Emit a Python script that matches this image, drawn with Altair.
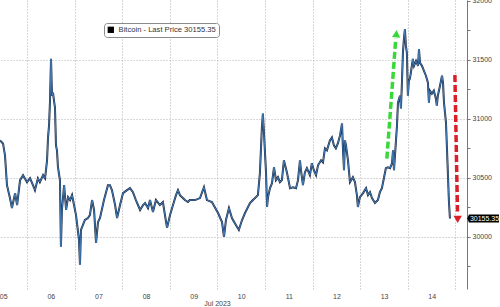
import altair as alt
import pandas as pd

# ---- data (hours since 2023-07-05 00:00, price) ----
hours = [10.4, 11.9, 12.9, 13.9, 15.4, 16.4, 18.0, 19.0, 20.5, 22.0, 24.0, 25.5, 27.0, 28.0, 29.5,
         30.5, 32.1, 33.1, 34.1, 34.6, 35.1, 35.6, 36.1, 36.6, 37.1, 37.6, 38.1, 38.6, 39.1, 39.6,
         40.6, 41.1, 41.6, 42.7, 43.7, 44.7, 45.7, 46.7, 47.7, 48.7, 50.2, 50.7, 51.2, 52.2, 53.2,
         54.7, 55.7, 56.8, 57.8, 58.8, 59.8, 60.8, 62.8, 64.8, 65.8, 66.8, 68.4, 69.4, 70.9, 72.4,
         74.4, 75.9, 77.4, 78.9, 81.0, 82.5, 83.5, 85.0, 86.0, 87.5, 89.0, 91.0, 92.5, 94.1, 94.6,
         96.1, 97.6, 99.1, 100.1, 101.1, 103.6, 105.1, 106.1, 108.7, 111.2, 113.2, 114.7, 117.2, 120.3,
         122.3, 123.3, 124.3, 125.8, 127.3, 129.3, 130.8, 132.4, 133.9, 136.4, 137.9, 139.4, 140.4,
         141.4, 141.9, 142.4, 142.9, 143.4, 143.9, 144.5, 145.0, 145.5, 146.5, 147.5, 148.5, 149.5,
         150.5, 151.5, 152.5, 153.5, 155.0, 156.6, 158.1, 159.6, 160.6, 161.6, 162.1, 163.1, 164.1,
         165.1, 166.6, 167.6, 168.6, 169.7, 170.7, 172.2, 173.2, 174.2, 175.2, 176.7, 177.7, 178.7,
         179.7, 180.7, 181.8, 182.8, 183.3, 183.8, 184.3, 184.8, 185.8, 186.8, 188.3, 189.3, 190.3,
         190.8, 191.8, 193.4, 194.9, 195.9, 196.9, 197.9, 199.4, 200.9, 201.9, 202.9, 203.9, 204.9,
         205.9, 207.0, 208.0, 208.5, 209.0, 209.5, 210.5, 211.0, 212.0, 212.5, 213.0, 213.5, 214.0,
         214.5, 215.0, 215.5, 216.0, 216.5, 217.0, 217.5, 218.5, 219.1, 220.1, 221.1, 221.6, 222.1,
         223.1, 224.1, 225.1, 226.1, 226.6, 227.1, 228.1, 229.1, 230.1, 230.6, 231.1, 232.2, 233.2,
         233.7, 234.2, 235.2, 235.7, 236.2, 236.7, 237.2]
prices = [30818, 30792, 30691, 30438, 30329, 30244, 30371, 30270, 30481, 30523, 30464, 30497, 30438, 30396, 30497,
          30464, 30523, 30497, 30649, 30843, 30944, 31155, 31509, 31197, 31222, 31155, 31096, 30776, 30733, 30590,
          30481, 29916, 30228, 30438, 30228, 30337, 30312, 30354, 30270, 30185, 29975, 29764, 30059, 30101, 30143,
          30160, 30185, 30312, 30228, 29949, 30126, 30160, 30312, 30438, 30438, 30396, 30270, 30160, 30270, 30371,
          30396, 30413, 30379, 30312, 30228, 30270, 30287, 30244, 30312, 30211, 30312, 30270, 30295, 30126, 30076,
          30185, 30270, 30354, 30396, 30354, 30312, 30295, 30312, 30312, 30329, 30421, 30312, 30295, 30202,
          30126, 30000, 30143, 30244, 30160, 30101, 30059, 30143, 30202, 30287, 30312, 30337, 30354,
          30540, 30733, 30927, 31045, 30902, 30733, 30540, 30253, 30337, 30413, 30455, 30590, 30481,
          30506, 30464, 30481, 30649, 30548, 30413, 30421, 30413, 30481, 30649, 30565, 30438, 30548,
          30582, 30523, 30624, 30565, 30523, 30607, 30649, 30632, 30750, 30733, 30818, 30843, 30776,
          30750, 30792, 30860, 30961, 30733, 30565, 30818, 30776, 30649, 30464, 30506, 30464, 30354,
          30253, 30337, 30371, 30413, 30354, 30379, 30329, 30287, 30312, 30379, 30413, 30497, 30582,
          30590, 30582, 30624, 30733, 30565, 30691, 30944, 31138, 31197, 31088, 31307, 31560, 31678,
          31762, 31619, 31560, 31197, 31323, 31340, 31391, 31509, 31450, 31492, 31450, 31593, 31475,
          31450, 31408, 31366, 31307, 31138, 31239, 31214, 31239, 31172, 31113, 31197, 31281, 31366,
          31307, 31138, 30969, 30750, 30523, 30295, 30155.35]

series_name = "Bitcoin - Last Price 30155.35"
last_price = 30155.35
last_label = "30155.35"

# x-axis: midnights carry the dotted gridlines, noons carry the day labels
x_tick_hours = [12, 24, 36, 48, 60, 72, 84, 96, 108, 120, 132, 144, 156, 168, 180, 192, 204, 216, 228, 240]
price_ticks = [29750, 30000, 30250, 30500, 30750, 31000, 31250, 31500, 31750, 32000]

# annotation arrows: start/end (hours, price)
arrow_kind = ["up", "down"]
arrow_h1 = [205.4, 239.7]
arrow_p1 = [30663, 31372]
arrow_h2 = [209.9, 241.0]
arrow_p2 = [31680, 30215]
head_h = [210.2, 241.1]
head_p = [31722, 30148]
head_shape = ["triangle-up", "triangle-down"]
head_angle = [4, 0]
arrow_color = ["#39d83a", "#d9202a"]

x_domain_hours = [10.39, 245.8]
y_domain = [29558, 32008]

base = pd.Timestamp("2023-07-05")


def ts(h):
    return (base + pd.Timedelta(hours=h)).strftime("%Y-%m-%dT%H:%M:%S")


price_df = pd.DataFrame({"time": [ts(h) for h in hours], "price": prices, "series": series_name})
arrow_df = pd.DataFrame({
    "kind": arrow_kind,
    "t1": [ts(h) for h in arrow_h1], "p1": arrow_p1,
    "t2": [ts(h) for h in arrow_h2], "p2": arrow_p2,
    "th": [ts(h) for h in head_h], "ph": head_p,
    "shape": head_shape, "angle": head_angle, "color": arrow_color,
})
last_df = pd.DataFrame({"price": [last_price], "label": [last_label]})


def dt(h):
    t = base + pd.Timedelta(hours=h)
    return alt.DateTime(year=t.year, month=t.month, date=t.day, hours=t.hour, minutes=t.minute)


x_scale = alt.Scale(domain=[dt(x_domain_hours[0]), dt(x_domain_hours[1])])
y_scale = alt.Scale(domain=y_domain, nice=False, zero=False)

FONT = "Liberation Sans"
GRID = "#b0b0b0"

x_axis = alt.Axis(
    values=[dt(h) for h in x_tick_hours],
    labelExpr="hours(datum.value) === 12 ? timeFormat(datum.value, '%d') : ''",
    grid=True, gridColor=GRID, gridDash=[1, 2], gridWidth=1,
    gridOpacity={"condition": {"test": "hours(datum.value) === 0", "value": 1}, "value": 0},
    ticks=False, domain=False,
    labelFontSize=7, labelColor="#444", labelFont=FONT, labelPadding=3, labelFlush=False,
    labelOverlap=False, labelBound=False,
    title="Jul 2023", titleFontSize=7, titleFont=FONT, titleFontWeight="normal", titleColor="#444",
    titleX=217, titleY=10, titleBaseline="top",
)
y_axis = alt.Axis(
    orient="right", values=price_ticks,
    grid=True, gridColor=GRID, gridDash=[1, 2], gridWidth=1,
    gridOpacity={"condition": {"test": "datum.value % 500 === 0 && datum.value < 32000", "value": 1}, "value": 0},
    labelExpr="datum.value % 500 === 0 ? datum.value : ''",
    tickSize=3, tickColor="#777", domainColor="#777", labelFontSize=7, labelColor="#444",
    labelFont=FONT, labelPadding=2, title=None, labelOverlap=False, labelBound=False,
)


def X(field):
    return alt.X(field, scale=x_scale, axis=x_axis)


def Y(field):
    return alt.Y(field, scale=y_scale, axis=y_axis)


line_dark = alt.Chart(price_df).mark_line(strokeWidth=2.0, clip=True).encode(
    x=X("time:T"),
    y=Y("price:Q"),
    color=alt.Color(
        "series:N",
        scale=alt.Scale(range=["#1b2a44"]),
        legend=alt.Legend(
            orient="none", legendX=104, legendY=23, title=None,
            symbolType="square", symbolFillColor="black", symbolStrokeColor="black",
            symbolSize=40, symbolStrokeWidth=0,
            labelFontSize=7.6, labelColor="#333", labelFont=FONT,
            strokeColor="#8a8a8a", fillColor="white", cornerRadius=3, padding=3,
        ),
    ),
)
line_blue = alt.Chart(price_df).mark_line(strokeWidth=0.8, color="#4d8fd0", clip=True).encode(
    x=X("time:T"),
    y=Y("price:Q"),
)

arrows = alt.Chart(arrow_df).mark_rule(strokeWidth=3.5, strokeDash=[7, 3]).encode(
    x=X("t1:T"), x2="t2:T",
    y=Y("p1:Q"), y2="p2:Q",
    color=alt.Color("color:N", scale=None, legend=None),
)
heads = alt.Chart(arrow_df).mark_point(filled=True, size=70, opacity=1).encode(
    x=X("th:T"),
    y=Y("ph:Q"),
    shape=alt.Shape("shape:N", scale=None, legend=None),
    angle=alt.Angle("angle:Q", scale=None),
    color=alt.Color("color:N", scale=None, legend=None),
)

flag = alt.Chart(last_df).mark_point(
    shape="M-1.12,0 L-1,-0.27 L1,-0.27 L1,0.27 L-1,0.27 Z",
    filled=True, color="black", size=900, opacity=1,
).encode(x=alt.value(484), y=Y("price:Q"))
flag_text = alt.Chart(last_df).mark_text(color="white", fontSize=7, font=FONT, align="center", baseline="middle").encode(
    x=alt.value(484.5), y=Y("price:Q"), text="label:N"
)

chart = alt.layer(line_dark, line_blue, arrows, heads, flag, flag_text).properties(
    width=467, height=289,
    padding={"left": 0, "top": 0, "right": 33, "bottom": 18},
    autosize=alt.AutoSizeParams(type="none"), background="white",
).configure_view(stroke=None)

chart.save("out.html", embed_options={"renderer": "svg", "actions": False})
